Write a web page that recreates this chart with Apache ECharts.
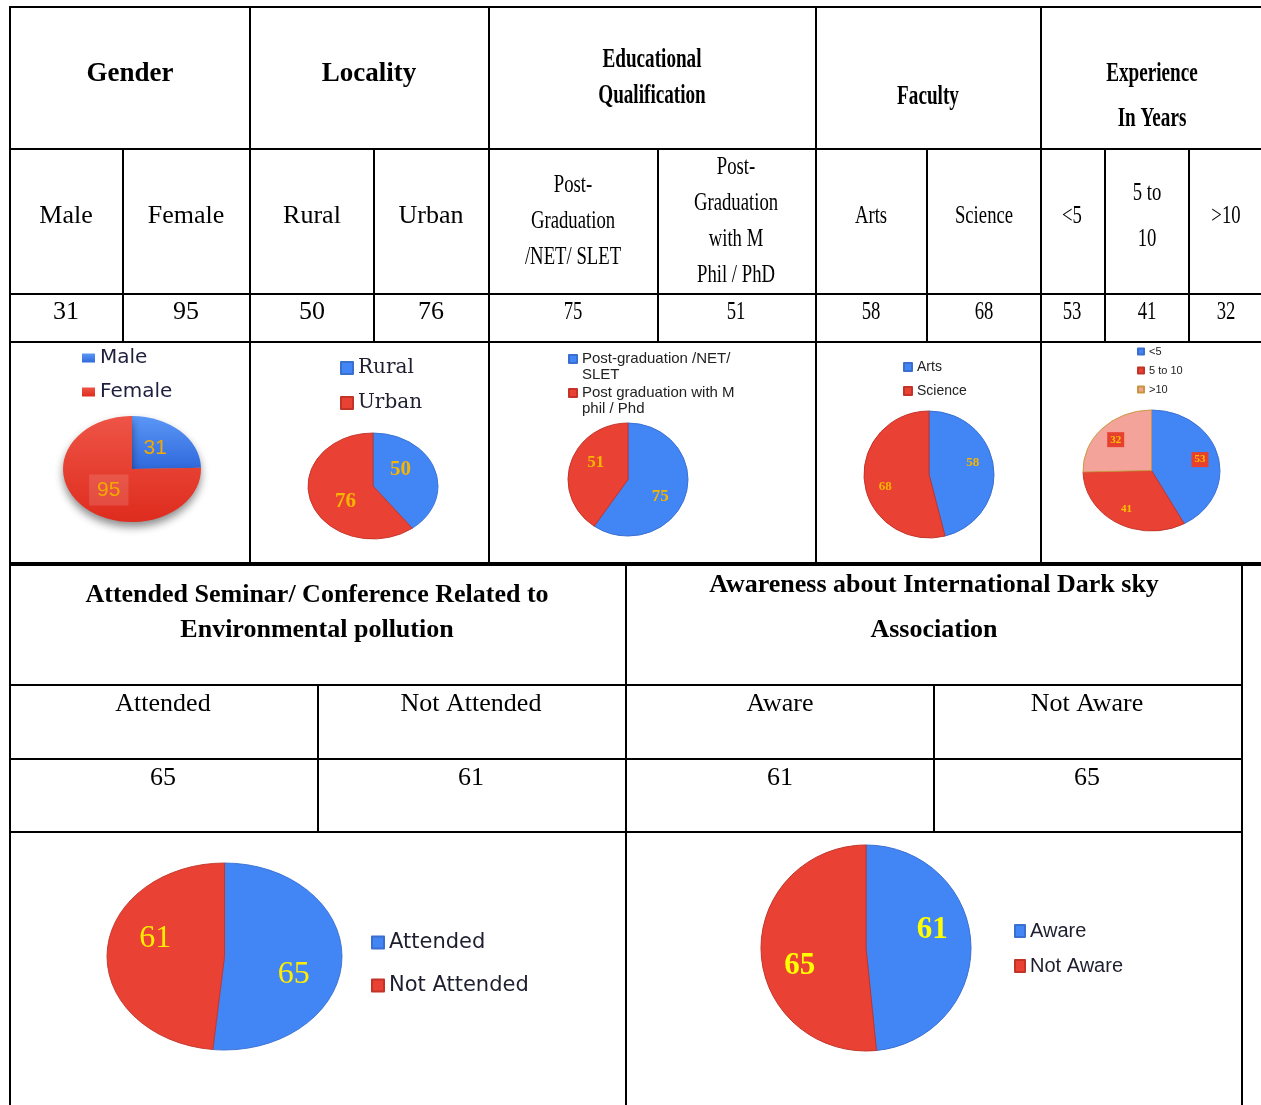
<!DOCTYPE html>
<html><head><meta charset="utf-8">
<script src="https://cdn.jsdelivr.net/npm/echarts@6/dist/echarts.min.js"></script>
<style>html,body{margin:0;padding:0;background:#fff}#c{width:1261px;height:1105px}</style>
</head><body><div id="c"></div>
<script>
// ---------------- DATA ----------------
const genderNames = ['Male', 'Female'];
const genderValues = [31, 95];
const localityNames = ['Rural', 'Urban'];
const localityValues = [50, 76];
const eduNames = ['Post-graduation /NET/\nSLET', 'Post graduation with M\nphil / Phd'];
const eduValues = [75, 51];
const facultyNames = ['Arts', 'Science'];
const facultyValues = [58, 68];
const expNames = ['<5', '5 to 10', '>10'];
const expValues = [53, 41, 32];
const seminarNames = ['Attended', 'Not Attended'];
const seminarValues = [65, 61];
const awareNames = ['Aware', 'Not Aware'];
const awareValues = [61, 65];

const topHeaders = ['Gender', 'Locality', 'Educational\nQualification', 'Faculty', 'Experience\nIn Years'];
const topSubHeaders = ['Male', 'Female', 'Rural', 'Urban', 'Post-\nGraduation\n/NET/ SLET',
  'Post-\nGraduation\nwith M\nPhil / PhD', 'Arts', 'Science', '<5', '5 to\n10', '>10'];
const bottomHeaders = ['Attended Seminar/ Conference Related to\nEnvironmental pollution',
  'Awareness about International Dark sky\nAssociation'];
const bottomSubHeaders = ['Attended', 'Not Attended', 'Aware', 'Not Aware'];

// ---------------- LAYOUT ----------------
const topValues = [].concat(genderValues, localityValues, eduValues, facultyValues, expValues);
const bottomValues = [].concat(seminarValues, awareValues);

const BLUE = '#4285f4', RED = '#e94235', PINK = '#f3a39a';
const SERIF = '"Liberation Serif", "Times New Roman", serif';
const SANS = '"Liberation Sans", Arial, sans-serif';
const DSANS = '"DejaVu Sans", sans-serif';
const DSERIF = '"DejaVu Serif", serif';

const graphics = [];
function line(x1, y1, x2, y2, w) {
  graphics.push({type: 'line', silent: true, shape: {x1, y1, x2, y2}, style: {stroke: '#000', lineWidth: w || 2}});
}
function text(str, x, y, font, lh, sx) {
  graphics.push({type: 'text', silent: true, x, y, scaleX: sx || 1, style: {
    text: str, x: 0, y: 0, font, lineHeight: lh, textAlign: 'center', textVerticalAlign: 'middle', fill: '#000'}});
}
// top table lines
[7, 149, 294, 342].forEach(y => line(10, y, 1261, y));
line(10, 564, 1261, 564, 4);
[10, 250, 489, 816, 1041].forEach(x => line(x, 6, x, 564));
[123, 374, 658, 927, 1105, 1189].forEach(x => line(x, 149, x, 342));
// bottom table lines
[685, 759, 832].forEach(y => line(10, y, 1242, y));
[10, 626, 1242].forEach(x => line(x, 564, x, 1105));
[318, 934].forEach(x => line(x, 685, x, 832));

// top headers
const topHeadPos = [[130, 74, 1, 36], [369, 74, 1, 36], [652, 78, 0.71, 36], [928, 97, 0.71, 36], [1152, 97, 0.71, 45]];
topHeaders.forEach((h, i) => {
  const p = topHeadPos[i];
  text(h, p[0], p[1], 'bold 27px ' + SERIF, p[3], p[2]);
});
const subX = [66, 186, 312, 431, 573, 736, 871, 984, 1072, 1147, 1226];
topSubHeaders.forEach((h, i) => {
  const multi = h.indexOf('\n') >= 0;
  text(h, subX[i], (multi && i !== 9) ? 221 : 216, '26px ' + SERIF, i === 9 ? 46 : 36, i >= 4 ? 0.72 : 1);
});
topValues.forEach((v, i) => text(String(v), subX[i], 312, '26px ' + SERIF, 30, i >= 4 ? 0.72 : 1));

// bottom headers
text(bottomHeaders[0], 317, 613, 'bold 26px ' + SERIF, 35, 1);
text(bottomHeaders[1], 934, 608, 'bold 26px ' + SERIF, 45, 1);
const bsubX = [163, 471, 780, 1087];
bottomSubHeaders.forEach((h, i) => text(h, bsubX[i], 704, '26px ' + SERIF, 30, 1));
bottomValues.forEach((v, i) => text(String(v), bsubX[i], 778, '26px ' + SERIF, 30, 1));

// pies: centre, x-radius, y-radius, label distance (fraction of radius), label rotation (deg)
const pieLayout = [
  {cx: 132, cy: 469, rx: 69, ry: 53, f: 0.52, rot: -4},
  {cx: 373, cy: 486, rx: 65, ry: 53, f: 0.52, rot: -17},
  {cx: 628, cy: 479.5, rx: 60, ry: 56.5, f: 0.615, rot: 12},
  {cx: 929, cy: 474.5, rx: 65, ry: 63.5, f: 0.70, rot: -9},
  {cx: 1151.5, cy: 470.5, rx: 68.5, ry: 60.5, f: 0.73, rot: 0},
  {cx: 224.5, cy: 956.5, rx: 117.5, ry: 93.5, f: 0.62, rot: 15},
  {cx: 866, cy: 948, rx: 105, ry: 103, f: 0.655, rot: -13}
];
const blueStyle = {color: BLUE, borderColor: '#3a6fd0', borderWidth: 1};
const redStyle = {color: RED, borderColor: '#c23328', borderWidth: 1};

function pie(idx, names, values, styles, label, itemLabels) {
  const L = pieLayout[idx];
  const k = L.ry / L.rx;
  const a = L.rot * Math.PI / 180;
  return {
    type: 'pie', center: [L.cx, L.cy], radius: L.rx, startAngle: 90, clockwise: true,
    avoidLabelOverlap: false, silent: true, animation: false,
    label: Object.assign({show: true, position: 'inside', formatter: '{c}'}, label),
    labelLine: {show: false},
    labelLayout: function (p) {
      const r = p.labelRect;
      let ux = r.x + r.width / 2 - L.cx, uy = r.y + r.height / 2 - L.cy;
      const n = Math.sqrt(ux * ux + uy * uy) || 1;
      ux /= n; uy /= n;
      const vx = ux * Math.cos(a) - uy * Math.sin(a);
      const vy = ux * Math.sin(a) + uy * Math.cos(a);
      return {x: L.cx + vx * L.f * L.rx, y: L.cy + vy * L.f * L.rx * k, align: 'center', verticalAlign: 'middle'};
    },
    data: names.map((n, i) => {
      const d = {name: n, value: values[i], itemStyle: styles[i]};
      if (itemLabels && itemLabels[i]) d.label = itemLabels[i];
      return d;
    })
  };
}
const orange = '#f2a900', gold = '#f7b500', yellow = '#ffff00';
const series = [
  pie(0, genderNames, genderValues, [
    {color: {type: 'linear', x: 0, y: 0, x2: 0, y2: 1, colorStops: [{offset: 0, color: '#5b97f7'}, {offset: 1, color: '#2f69dc'}]},
      shadowBlur: 8, shadowOffsetY: 5, shadowColor: 'rgba(0,0,0,0.45)'},
    {color: {type: 'linear', x: 0, y: 0, x2: 0, y2: 1, colorStops: [{offset: 0, color: '#ee5446'}, {offset: 1, color: '#de2c1e'}]},
      shadowBlur: 8, shadowOffsetY: 5, shadowColor: 'rgba(0,0,0,0.45)'}
  ], {fontFamily: SANS, fontSize: 21, color: orange},
    [null, {backgroundColor: 'rgba(255,255,255,0.13)', padding: [5, 8]}]),
  pie(1, localityNames, localityValues, [blueStyle, redStyle], {fontFamily: SERIF, fontWeight: 'bold', fontSize: 21, color: gold}),
  pie(2, eduNames, eduValues, [blueStyle, redStyle], {fontFamily: SERIF, fontWeight: 'bold', fontSize: 17, color: gold}),
  pie(3, facultyNames, facultyValues, [blueStyle, redStyle], {fontFamily: SERIF, fontWeight: 'bold', fontSize: 13, color: gold}),
  pie(4, expNames, expValues, [blueStyle, redStyle, {color: PINK, borderColor: '#c8963c', borderWidth: 1}],
    {fontFamily: SERIF, fontWeight: 'bold', fontSize: 11, color: '#f9c300'},
    [{backgroundColor: '#e8402f', padding: [3, 3, 1, 3]}, null, {backgroundColor: '#e8402f', padding: [3, 3, 1, 3]}]),
  pie(5, seminarNames, seminarValues, [blueStyle, redStyle], {fontFamily: SERIF, fontSize: 32, color: '#ffee00'}),
  pie(6, awareNames, awareValues, [blueStyle, redStyle], {fontFamily: SERIF, fontWeight: 'bold', fontSize: 31, color: yellow})
];

function legend(data, left, top, iw, ih, gap, textGap, ts, fmt) {
  const l = {data, left, top, orient: 'vertical', icon: 'rect', itemWidth: iw, itemHeight: ih, itemGap: gap,
    itemTextGap: textGap, padding: 0, selectedMode: false, textStyle: Object.assign({color: '#222'}, ts)};
  if (fmt) l.formatter = fmt;
  return l;
}
const legends = [
  legend(genderNames, 82, 348, 13, 9, 14, 6, {fontFamily: DSANS, fontSize: 20, color: '#1e1e3e'}),
  legend(localityNames, 340, 358, 12, 12, 15, 6, {fontFamily: DSERIF, fontSize: 20, color: '#1e1e2e'}),
  legend(eduNames, 568, 335, 8, 8, -14, 1, {fontFamily: SANS, fontSize: 15, lineHeight: 16}, name => '\n' + name),
  legend(facultyNames, 903, 360, 8, 8, 10, 3, {fontFamily: SANS, fontSize: 14}),
  legend(expNames, 1137, 346, 6, 6, 8, 4, {fontFamily: SANS, fontSize: 11}),
  legend(seminarNames, 371, 932, 12, 12, 22, 7, {fontFamily: DSANS, fontSize: 21, color: '#1e1e2e'}),
  legend(awareNames, 1014, 921, 10, 12, 15, 5, {fontFamily: SANS, fontSize: 20, color: '#1e1e2e'})
];

const chart = echarts.init(document.getElementById('c'), null, {renderer: 'canvas'});
chart.setOption({
  animation: false,
  backgroundColor: '#fff',
  legend: legends,
  series: series,
  graphic: {elements: graphics}
});

// squash the pies into ellipses like the reference
function squash() {
  const model = chart.getModel();
  pieLayout.forEach((L, i) => {
    const sm = model.getSeriesByIndex(i);
    let view = null;
    try { view = chart.getViewOfSeriesModel(sm); } catch (e) {}
    if (!view && chart._chartsMap) view = chart._chartsMap[sm.__viewId];
    if (!view) return;
    const g = view.group;
    g.originX = L.cx; g.originY = L.cy; g.scaleY = L.ry / L.rx;
    g.traverse(el => { if (el.markRedraw) el.markRedraw(); });
    if (g.markRedraw) g.markRedraw();
  });
  chart.getZr().refreshImmediately();
}
try { squash(); } catch (e) { console.log(e); }
</script>
</body></html>
